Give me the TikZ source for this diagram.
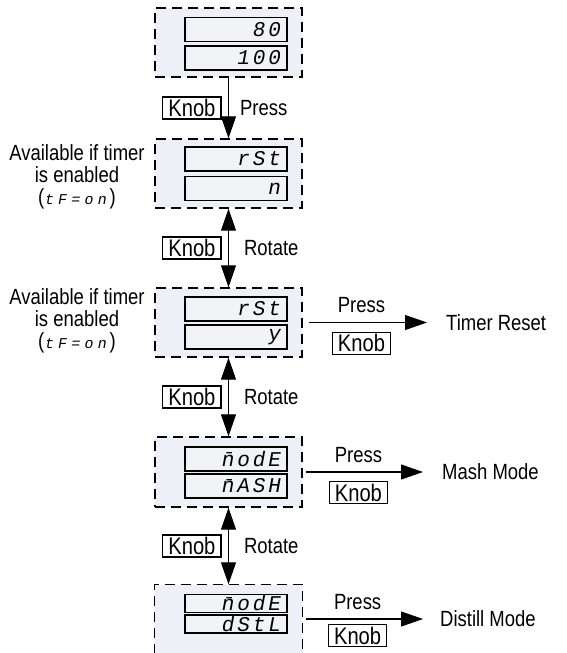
\documentclass[tikz,border=0pt]{standalone}
\usepackage{fontspec}
\setmainfont{Liberation Sans}[FakeStretch=0.84]
\newfontfamily\segfont{Liberation Mono}[FakeSlant=0.18,LetterSpace=14]
\newfontfamily\segsmall{Liberation Mono}[FakeSlant=0.18,LetterSpace=28]
\usetikzlibrary{arrows.meta, positioning}

\definecolor{panelfill}{HTML}{EDF0F6}
\definecolor{dispfill}{HTML}{F2F3F6}

\tikzset{
    panel/.style={fill=panelfill, draw=black, line width=1.4pt, dash pattern=on 10pt off 6pt,
        minimum width=147pt, minimum height=69pt, inner sep=0pt},
    display/.style={draw=black, line width=1.1pt, fill=dispfill, minimum width=102pt,
        minimum height=24pt, inner sep=0pt, text width=88pt, align=right,
        font=\segfont\fontsize{21}{21}\selectfont},
    knob/.style={draw=black, line width=1.1pt, inner xsep=5.5pt, inner ysep=0pt,
        minimum height=22pt, font=\fontsize{24}{24}\selectfont},
    lbl/.style={inner sep=0pt, font=\fontsize{22}{22}\selectfont},
    arr/.style={line width=1.1pt, -{Triangle[width=15pt,length=22pt]}},
    darr/.style={line width=1.1pt, {Triangle[width=15pt,length=22pt]}-{Triangle[width=15pt,length=22pt]}},
}

\begin{document}
\begin{tikzpicture}[x=1pt, y=-1pt]
    \useasboundingbox (0,0) rectangle (566,653);
    % Panels
    \node[panel] (p1) at (228.5,42.5) {};
    \node[panel] (p2) at (228.5,173.5) {};
    \node[panel] (p3) at (228.5,322.5) {};
    \node[panel, minimum height=70pt] (p4) at (228.5,472) {};
    \node[panel, draw=none, minimum height=68pt] (p5) at (228.5,619) {};
    \draw[line width=1.4pt, dash pattern=on 10pt off 6pt]
        (p5.south west) -- (p5.north west) -- (p5.north east) -- (p5.south east);
    % Displays
    \node[display] (d1a) at (236,29.5) {80};
    \node[display] (d1b) at (236,58) {100};
    \node[display] (d2a) at (236,159) {rSt};
    \node[display] (d2b) at (236,188.5) {n};
    \node[display] (d3a) at (236,309) {rSt};
    \node[display] (d3b) at (236,337) {y};
    \node[display] (d4a) at (236,459) {n̄odE};
    \node[display] (d4b) at (236,486) {n̄ASH};
    \node[display, minimum height=18pt] (d5a) at (236,603.5) {n̄odE};
    \node[display, minimum height=18pt] (d5b) at (236,624) {dStL};
    % Side notes
    \node[lbl, align=center] (n2) at (77,177)
        {Available if timer\\is enabled\\({\segsmall\fontsize{15}{15}\selectfont tF=on}\,)};
    \node[lbl, align=center] (n3) at (77,321)
        {Available if timer\\is enabled\\({\segsmall\fontsize{15}{15}\selectfont tF=on}\,)};
    % Knob steps down the column
    \draw[arr] (p1.south) -- (p2.north)
        node[knob, midway, left=7pt] (k1) {Knob}
        node[lbl, midway, right=11pt] (t1) {Press};
    \draw[darr] (p2.south) -- (p3.north)
        node[knob, midway, left=7pt] (k2) {Knob}
        node[lbl, midway, right=15pt] (t2) {Rotate};
    \draw[darr] (p3.south) -- (p4.north)
        node[knob, midway, left=7pt] (k3) {Knob}
        node[lbl, midway, right=15pt] (t3) {Rotate};
    \draw[darr] (p4.south) -- (p5.north)
        node[knob, midway, left=7pt] (k4) {Knob}
        node[lbl, midway, right=15pt] (t4) {Rotate};
    % Results
    \node[lbl, anchor=west] (reset) at (446,322.5) {Timer Reset};
    \node[lbl, anchor=west] (mash) at (442,472) {Mash Mode};
    \node[lbl, anchor=west] (distill) at (440,619) {Distill Mode};
    \draw[arr, shorten <=6pt, shorten >=19pt] (p3.east) -- (reset.west)
        node[lbl, pos=0.41, above=9pt] (t5) {Press}
        node[knob, pos=0.41, below=9pt] (k5) {Knob};
    \draw[arr, shorten <=3pt, shorten >=19pt] (p4.east) -- (mash.west)
        node[lbl, pos=0.4, above=9pt] (t6) {Press}
        node[knob, pos=0.4, below=9pt] (k6) {Knob};
    \draw[arr, shorten <=3pt, shorten >=17pt] (p5.east) -- (distill.west)
        node[lbl, pos=0.4, above=9pt] (t7) {Press}
        node[knob, pos=0.4, below=5pt] (k7) {Knob};
\end{tikzpicture}
\end{document}
